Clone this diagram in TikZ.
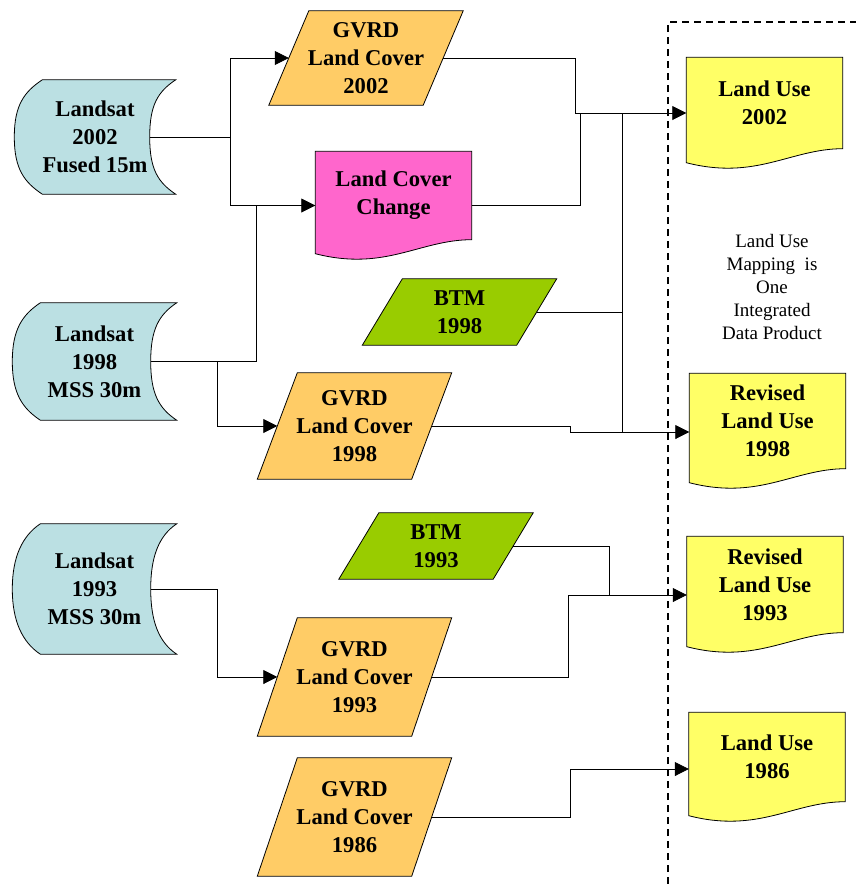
\documentclass[tikz,border=0pt]{standalone}
\usepackage{fontspec}
\setmainfont{Liberation Serif}
\usetikzlibrary{calc,arrows.meta,backgrounds}
\definecolor{landsat}{HTML}{BBE0E3}
\definecolor{gvrd}{HTML}{FFCC66}
\definecolor{btm}{HTML}{99CC00}
\definecolor{change}{HTML}{FF66CC}
\definecolor{landuse}{HTML}{FFFF66}
% outlines drawn round the named nodes
\newcommand{\slantbox}[2]{
  \filldraw[fill=#2] ($(#1.north west)+(20,0)$) -- ($(#1.north east)+(20,0)$) -- ($(#1.south east)+(-20,0)$) -- ($(#1.south west)+(-20,0)$) -- cycle;}
\newcommand{\docbox}[2]{
  \filldraw[fill=#2] (#1.south east) -- (#1.north east) -- (#1.north west) -- ($(#1.south west)+(0,14)$) .. controls ($(#1.south west)+(70,32)$) and ($(#1.south east)+(-52,0)$) .. (#1.south east) -- cycle;}
\newcommand{\storebox}[2]{
  \filldraw[fill=#2] ($(#1.north west)+(28,0)$) -- (#1.north east) .. controls +(-18,12) and +(0,-32) .. ($(#1.east)+(-26,0)$) .. controls +(0,32) and +(-18,-12) .. (#1.south east) -- ($(#1.south west)+(28,0)$) .. controls +(-18,-12) and +(0,32) .. (#1.west) .. controls +(0,-32) and +(-18,12) .. ($(#1.north west)+(28,0)$) -- cycle;}

\begin{document}
\begin{tikzpicture}[x=0.5pt,y=-0.5pt,line width=0.7pt,
    lbl/.style={inner sep=0pt,align=center,font=\bfseries\fontsize{11.3}{14}\selectfont},
    slant/.style={lbl,minimum width=76.5pt},
    docu/.style={lbl,minimum width=77.5pt},
    arr/.style={-{Triangle[length=7pt,width=7pt]}}]
	\useasboundingbox (0,0) rectangle (856,884);
	%SOURCES
	\node[lbl,minimum width=80pt,minimum height=56.5pt] (ls02) at (95,137) {Landsat\\2002\\Fused 15m};
	\node[lbl,minimum width=81.5pt,minimum height=58pt] (ls98) at (94.5,361.5) {Landsat\\1998\\MSS 30m};
	\node[lbl,minimum width=81.5pt,minimum height=64.5pt] (ls93) at (94.5,589) {Landsat\\1993\\MSS 30m};
	%LAND COVER
	\node[slant,minimum height=46.5pt] (g02) at (366,58) {GVRD\\Land Cover\\2002};
	\node[docu,minimum height=43.5pt] (lcc) at (393.5,195.5) {Land Cover\\Change};
	\node[slant,minimum height=32.5pt] (b98) at (459.5,312) {BTM\\1998};
	\node[slant,minimum height=52.5pt] (g98) at (354.5,426) {GVRD\\Land Cover\\1998};
	\node[slant,minimum height=32.5pt] (b93) at (436,546) {BTM\\1993};
	\node[slant,minimum height=58.5pt] (g93) at (354.5,677) {GVRD\\Land Cover\\1993};
	\node[slant,minimum height=58.5pt] (g86) at (354.5,817) {GVRD\\Land Cover\\1986};
	%LAND USE
	\node[docu,minimum height=45pt] (lu02) at (764.5,103) {Land Use\\2002};
	\node[docu,minimum height=47pt] (rlu98) at (767.5,421) {Revised\\Land Use\\1998};
	\node[docu,minimum height=47.5pt] (rlu93) at (765,584.5) {Revised\\Land Use\\1993};
	\node[docu,minimum height=44pt] (lu86) at (767,757) {Land Use\\1986};
	\node[align=center,inner sep=0pt,font=\fontsize{9.5}{11.5}\selectfont] (note) at (772,287) {Land Use\\Mapping\ \ is\\One\\Integrated\\Data Product};
	\begin{pgfonlayer}{background}
		\storebox{ls02}{landsat} \storebox{ls98}{landsat} \storebox{ls93}{landsat}
		\slantbox{g02}{gvrd} \slantbox{g98}{gvrd} \slantbox{g93}{gvrd} \slantbox{g86}{gvrd}
		\slantbox{b98}{btm} \slantbox{b93}{btm}
		\docbox{lcc}{change}
		\docbox{lu02}{landuse} \docbox{rlu98}{landuse} \docbox{rlu93}{landuse} \docbox{lu86}{landuse}
	\end{pgfonlayer}
	%JUNCTIONS
	\coordinate (ja) at (230,137);
	\coordinate (jb) at (256,205.5);
	\coordinate (jc) at (217,361.5);
	\coordinate (jd) at (217,589);
	\coordinate (je) at (575,113);
	\coordinate (jf) at (580,113);
	\coordinate (jg) at (622,113);
	\coordinate (jh) at (622,432);
	\coordinate (ji) at (570,432);
	\coordinate (jj) at (609,595);
	\coordinate (jk) at (568,595);
	\coordinate (jl) at (570,769);
	%CONNECTORS
	\draw ($(ls02.east)+(-26,0)$) -- (ja);
	\draw[arr] (ja) |- (g02.west);
	\draw[arr] (ja) |- ($(lcc.west)+(0,10)$);
	\draw ($(ls98.east)+(-26,0)$) -| (jb);
	\draw[arr] (jc) |- (g98.west);
	\draw ($(ls93.east)+(-26,0)$) -- (jd);
	\draw[arr] (jd) |- (g93.west);
	\draw (g02.east) -| (je);
	\draw ($(lcc.east)+(0,10)$) -| (jf);
	\draw[arr] (je) -- ($(lu02.west)+(0,10)$);
	\draw (jg) -- (jh);
	\draw (b98.east) -- (b98.east -| jg);
	\draw[arr] (g98.east) -| (ji) -- ($(rlu98.west)+(0,11)$);
	\draw (b93.east) -| (jj);
	\draw[arr] (g93.east) -| (jk) -- ($(rlu93.west)+(0,10.5)$);
	\draw[arr] (g86.east) -| (jl) -- ($(lu86.west)+(0,12)$);
	%PRODUCT FRAME
	\draw[line width=1pt,dash pattern=on 3.5pt off 2.5pt] (668,884) -- (668,22) -- (856,22);
\end{tikzpicture}
\end{document}
